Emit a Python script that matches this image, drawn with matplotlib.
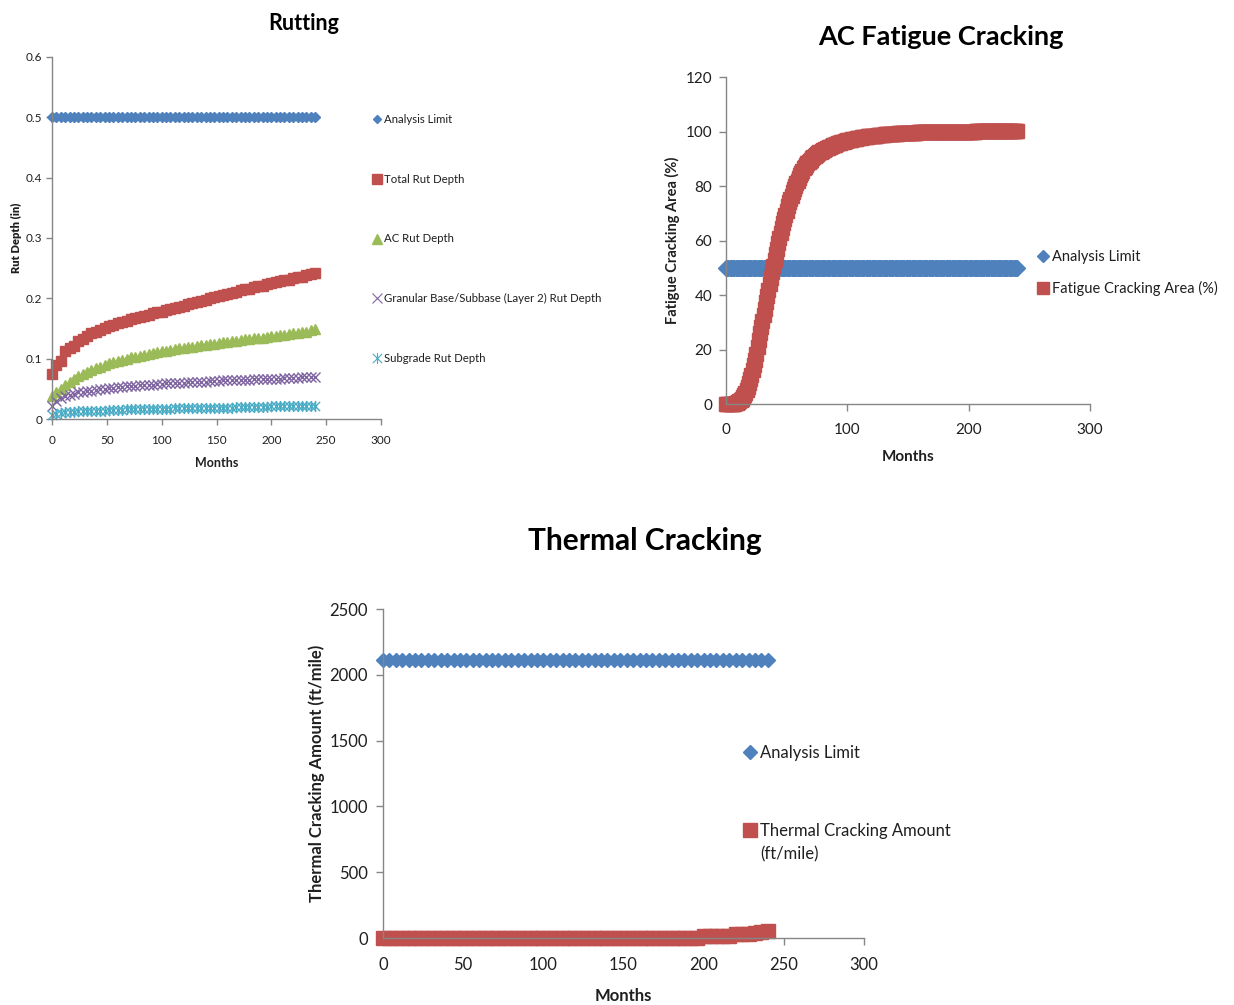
import matplotlib
matplotlib.use("Agg")
import matplotlib.pyplot as plt
from matplotlib.lines import Line2D
from matplotlib.path import Path

plt.rcParams['font.family'] = ['Lato', 'DejaVu Sans']

# ---------------- data ----------------
months = list(range(0, 241, 4))

rut_limit = 0.5
total_rut = [0.075, 0.090, 0.096, 0.112, 0.118, 0.121, 0.129, 0.133, 0.137, 0.142, 0.145, 0.148,
             0.151, 0.154, 0.156, 0.159, 0.161, 0.163, 0.165, 0.167, 0.169, 0.171, 0.173, 0.175,
             0.177, 0.178, 0.180, 0.182, 0.184, 0.186, 0.188, 0.190, 0.192, 0.194, 0.196, 0.198,
             0.200, 0.202, 0.204, 0.206, 0.208, 0.209, 0.211, 0.213, 0.215, 0.216, 0.218, 0.220,
             0.221, 0.223, 0.225, 0.227, 0.228, 0.230, 0.231, 0.233, 0.235, 0.236, 0.238, 0.240,
             0.242]
ac_rut = [0.038, 0.045, 0.050, 0.057, 0.062, 0.066, 0.071, 0.075, 0.078, 0.082, 0.085, 0.087,
          0.090, 0.092, 0.094, 0.096, 0.098, 0.100, 0.102, 0.103, 0.105, 0.106, 0.108, 0.109,
          0.111, 0.112, 0.113, 0.114, 0.116, 0.117, 0.118, 0.119, 0.120, 0.121, 0.122, 0.123,
          0.124, 0.125, 0.126, 0.127, 0.128, 0.129, 0.130, 0.131, 0.132, 0.133, 0.134, 0.135,
          0.135, 0.136, 0.137, 0.138, 0.139, 0.140, 0.141, 0.142, 0.143, 0.144, 0.145, 0.147,
          0.149]
base_rut = [0.022, 0.030, 0.035, 0.038, 0.040, 0.042, 0.044, 0.045, 0.046, 0.047, 0.048, 0.049,
            0.050, 0.051, 0.052, 0.053, 0.053, 0.054, 0.055, 0.055, 0.056, 0.056, 0.057, 0.057,
            0.058, 0.058, 0.059, 0.059, 0.060, 0.060, 0.060, 0.061, 0.061, 0.062, 0.062, 0.062,
            0.063, 0.063, 0.063, 0.064, 0.064, 0.064, 0.065, 0.065, 0.065, 0.065, 0.066, 0.066,
            0.066, 0.067, 0.067, 0.067, 0.067, 0.068, 0.068, 0.068, 0.068, 0.069, 0.069, 0.069,
            0.070]
subgrade_rut = [0.006, 0.009, 0.010, 0.011, 0.012, 0.012, 0.013, 0.013, 0.013, 0.014, 0.014, 0.014,
                0.014, 0.015, 0.015, 0.015, 0.015, 0.016, 0.016, 0.016, 0.016, 0.016, 0.017, 0.017,
                0.017, 0.017, 0.017, 0.017, 0.018, 0.018, 0.018, 0.018, 0.018, 0.018, 0.019, 0.019,
                0.019, 0.019, 0.019, 0.019, 0.019, 0.019, 0.020, 0.020, 0.020, 0.020, 0.020, 0.020,
                0.020, 0.020, 0.021, 0.021, 0.021, 0.021, 0.021, 0.021, 0.021, 0.021, 0.021, 0.021,
                0.021]

# fatigue cracking is reported every month
fatigue_months = list(range(0, 241))
fatigue_limit = 50
fatigue_area = [
    0.0, 0.0, 0.0, 0.0, 0.0, 0.0, 0.0, 0.0, 0.3, 0.5,                    # 0-9
    0.8, 1.1, 1.5, 2.0, 2.6, 3.3, 4.0, 5.2, 6.4, 7.7,                    # 10-19
    9.0, 10.7, 12.4, 14.2, 16.0, 18.5, 21.0, 23.5, 26.0, 28.3,           # 20-29
    30.5, 32.8, 35.0, 37.3, 39.5, 41.8, 44.0, 46.3, 48.5, 50.8,          # 30-39
    53.0, 55.0, 57.0, 59.0, 61.0, 62.8, 64.5, 66.3, 68.0, 69.5,          # 40-49
    71.0, 72.5, 74.0, 75.3, 76.5, 77.8, 79.0, 80.0, 81.0, 82.0,          # 50-59
    83.0, 83.9, 84.8, 85.6, 86.5, 87.1, 87.7, 88.3, 88.8, 89.2,          # 60-69
    89.7, 90.1, 90.5, 90.9, 91.3, 91.6, 92.0, 92.3, 92.6, 92.8,          # 70-79
    93.1, 93.3, 93.6, 93.8, 94.0, 94.2, 94.4, 94.7, 94.9, 95.1,          # 80-89
    95.2, 95.4, 95.6, 95.7, 95.9, 96.0, 96.2, 96.3, 96.4, 96.6,          # 90-99
    96.7, 96.8, 96.9, 97.0, 97.1, 97.2, 97.3, 97.4, 97.5, 97.6,          # 100-109
    97.7, 97.7, 97.8, 97.9, 98.0, 98.0, 98.1, 98.2, 98.2, 98.3,          # 110-119
    98.3, 98.4, 98.4, 98.5, 98.5, 98.6, 98.6, 98.7, 98.7, 98.8,          # 120-129
    98.8, 98.9, 98.9, 99.0, 99.0, 99.0, 99.1, 99.1, 99.1, 99.2,          # 130-139
    99.2, 99.2, 99.3, 99.3, 99.3, 99.4, 99.4, 99.4, 99.4, 99.5,          # 140-149
    99.5, 99.5, 99.5, 99.6, 99.6, 99.6, 99.6, 99.6, 99.7, 99.7,          # 150-159
    99.7, 99.7, 99.7, 99.7, 99.8, 99.8, 99.8, 99.8, 99.8, 99.8,          # 160-169
    99.8, 99.9, 99.9, 99.9, 99.9, 99.9, 99.9, 99.9, 99.9, 99.9,          # 170-179
    99.9, 99.9, 99.9, 99.9, 99.9, 99.9, 100.0, 100.0, 100.0, 100.0,      # 180-189
    100.0, 100.0, 100.0, 100.0, 100.0, 100.0, 100.0, 100.0, 100.0, 100.0,  # 190-199
    100.0, 100.0, 100.0, 100.0, 100.0, 100.0, 100.1, 100.1, 100.1, 100.1,  # 200-209
    100.1, 100.1, 100.1, 100.1, 100.1, 100.1, 100.1, 100.1, 100.1, 100.1,  # 210-219
    100.1, 100.2, 100.2, 100.2, 100.2, 100.2, 100.2, 100.2, 100.2, 100.2,  # 220-229
    100.2, 100.2, 100.2, 100.3, 100.3, 100.3, 100.3, 100.3, 100.3, 100.3,  # 230-239
    100.3,                                                                 # 240
]

thermal_limit = 2112
thermal_amount = [0, 0, 0, 0, 0, 0, 0, 0, 0, 0, 0, 0,
                  0, 0, 0, 0, 0, 0, 0, 0, 0, 0, 0, 0,
                  0, 0, 0, 0, 0, 0, 0, 0, 0, 0, 0, 0,
                  0, 0, 0, 0, 0, 0, 0, 0, 0, 0, 0, 0,
                  0, 0, 14, 15, 16, 17, 18, 31, 33, 34, 35, 49,
                  52]

rut_yticks = [0, 0.1, 0.2, 0.3, 0.4, 0.5, 0.6]
rut_ylabels = ['0', '0.1', '0.2', '0.3', '0.4', '0.5', '0.6']
rut_xticks = [0, 50, 100, 150, 200, 250, 300]
fat_yticks = [0, 20, 40, 60, 80, 100, 120]
fat_xticks = [0, 100, 200, 300]
th_yticks = [0, 500, 1000, 1500, 2000, 2500]
th_xticks = [0, 50, 100, 150, 200, 250, 300]

# ---------------- styles ----------------
BLUE = '#4F81BD'
RED = '#C0504D'
GREEN = '#9BBB59'
PURPLE = '#8064A2'
CYAN = '#4BACC6'
AXIS_GRAY = '#868686'
TEXT = '#1f1f1f'

star = Path([(-0.5, -0.5), (0.5, 0.5), (-0.5, 0.5), (0.5, -0.5), (0, -0.6), (0, 0.6)],
            [Path.MOVETO, Path.LINETO, Path.MOVETO, Path.LINETO, Path.MOVETO, Path.LINETO])

W, H = 1234, 1005
fig = plt.figure(figsize=(W / 100, H / 100), dpi=100)
fig.patch.set_facecolor('white')


def px_axes(x0, x1, y_top, y_bottom):
    return fig.add_axes([x0 / W, 1 - y_bottom / H, (x1 - x0) / W, (y_bottom - y_top) / H])


def style_axes(ax, tick_size, xpad, ypad, ticklen=4):
    for side in ('top', 'right'):
        ax.spines[side].set_visible(False)
    for side in ('left', 'bottom'):
        ax.spines[side].set_color(AXIS_GRAY)
        ax.spines[side].set_linewidth(1.0)
    ax.tick_params(axis='both', direction='out', length=ticklen, width=1.0,
                   color=AXIS_GRAY, labelsize=tick_size, labelcolor=TEXT)
    ax.tick_params(axis='x', pad=xpad)
    ax.tick_params(axis='y', pad=ypad)
    ax.set_facecolor('none')


def pts(ax, x, y, marker, color, ms, **kw):
    ax.plot(x, y, linestyle='none', marker=marker, color=color, markersize=ms,
            markeredgecolor=color, clip_on=False, **kw)


def side_legend(handles, labels, x, y, size, spacing):
    return fig.legend(handles, labels, loc='upper left', bbox_to_anchor=(x / W, 1 - y / H),
                      frameon=False, fontsize=size, handlelength=0.6, handletextpad=0.3,
                      labelspacing=spacing, borderpad=0, borderaxespad=0, labelcolor=TEXT)


# ---------------- Rutting ----------------
ax1 = px_axes(52, 381, 57, 419)
style_axes(ax1, 8.5, xpad=7.3, ypad=3)
ax1.set_xlim(0, 300)
ax1.set_ylim(0, 0.6)
ax1.set_xticks(rut_xticks)
ax1.set_yticks(rut_yticks)
ax1.set_yticklabels(rut_ylabels)

pts(ax1, months, [rut_limit] * len(months), 'D', BLUE, 5.6)
pts(ax1, months, total_rut, 's', RED, 7.5)
pts(ax1, months, ac_rut, '^', GREEN, 7.5)
pts(ax1, months, base_rut, 'x', PURPLE, 7, markeredgewidth=1.0)
pts(ax1, months, subgrade_rut, star, CYAN, 8, markeredgewidth=1.0, markerfacecolor='none')

ax1.set_xlabel('Months', fontsize=9, fontweight='bold', color=TEXT, labelpad=8)
ax1.set_ylabel('Rut Depth (in)', fontsize=8, fontweight='heavy', color=TEXT, labelpad=3)
fig.text(304 / W, 1 - 23 / H, 'Rutting', ha='center', va='center',
         fontsize=15.5, fontweight='bold', color='black')

rut_handles = [
    Line2D([], [], ls='none', marker='D', color=BLUE, markersize=4.5),
    Line2D([], [], ls='none', marker='s', color=RED, markersize=7),
    Line2D([], [], ls='none', marker='^', color=GREEN, markersize=7),
    Line2D([], [], ls='none', marker='x', color=PURPLE, markersize=7, markeredgewidth=0.8),
    Line2D([], [], ls='none', marker=star, color=CYAN, markersize=8, markeredgewidth=0.8,
           markerfacecolor='none'),
]
rut_labels = ['Analysis Limit', 'Total Rut Depth', 'AC Rut Depth',
              'Granular Base/Subbase (Layer 2) Rut Depth', 'Subgrade Rut Depth']
side_legend(rut_handles, rut_labels, 374, 114, 8.2, 4.28)

# ---------------- AC Fatigue Cracking ----------------
ax2 = px_axes(726, 1090, 77, 404)
style_axes(ax2, 11, xpad=8.8, ypad=5, ticklen=5)
ax2.set_xlim(0, 300)
ax2.set_ylim(0, 120)
ax2.set_xticks(fat_xticks)
ax2.set_yticks(fat_yticks)
pts(ax2, fatigue_months, [fatigue_limit] * len(fatigue_months), 'D', BLUE, 7.8)
pts(ax2, fatigue_months, fatigue_area, 's', RED, 9.5)
ax2.set_xlabel('Months', fontsize=11, fontweight='bold', color=TEXT, labelpad=9)
ax2.set_ylabel('Fatigue Cracking Area (%)', fontsize=10.5, fontweight='bold', color=TEXT,
               labelpad=4)
fig.text(941 / W, 1 - 37 / H, 'AC Fatigue Cracking', ha='center', va='center',
         fontsize=19.5, fontweight='bold', color='black')
fat_handles = [
    Line2D([], [], ls='none', marker='D', color=BLUE, markersize=6.5),
    Line2D([], [], ls='none', marker='s', color=RED, markersize=9),
]
side_legend(fat_handles, ['Analysis Limit', 'Fatigue Cracking Area (%)'], 1039, 250, 10.5, 1.16)

# ---------------- Thermal Cracking ----------------
ax3 = px_axes(383, 864, 609, 938)
style_axes(ax3, 12, xpad=8.8, ypad=6, ticklen=5)
ax3.set_xlim(0, 300)
ax3.set_ylim(0, 2500)
ax3.set_xticks(th_xticks)
ax3.set_yticks(th_yticks)
pts(ax3, months, [thermal_limit] * len(months), 'D', BLUE, 7.5)
pts(ax3, months, thermal_amount, 's', RED, 10)
ax3.set_xlabel('Months', fontsize=12, fontweight='bold', color=TEXT, labelpad=10.5)
ax3.set_ylabel('Thermal Cracking Amount (ft/mile)', fontsize=12, fontweight='bold',
               color=TEXT, labelpad=3)
fig.text(645 / W, 1 - 541 / H, 'Thermal Cracking', ha='center', va='center',
         fontsize=21.5, fontweight='bold', color='black')

side_legend([Line2D([], [], ls='none', marker='D', color=BLUE, markersize=7)],
            ['Analysis Limit'], 745, 745, 12, 0.5)
side_legend([Line2D([], [], ls='none', marker='s', color=RED, markersize=10),
             Line2D([], [], ls='none')],
            ['Thermal Cracking Amount', '(ft/mile)'], 745, 823, 12, 0.45)

fig.savefig('out.png', dpi=100, facecolor='white')
